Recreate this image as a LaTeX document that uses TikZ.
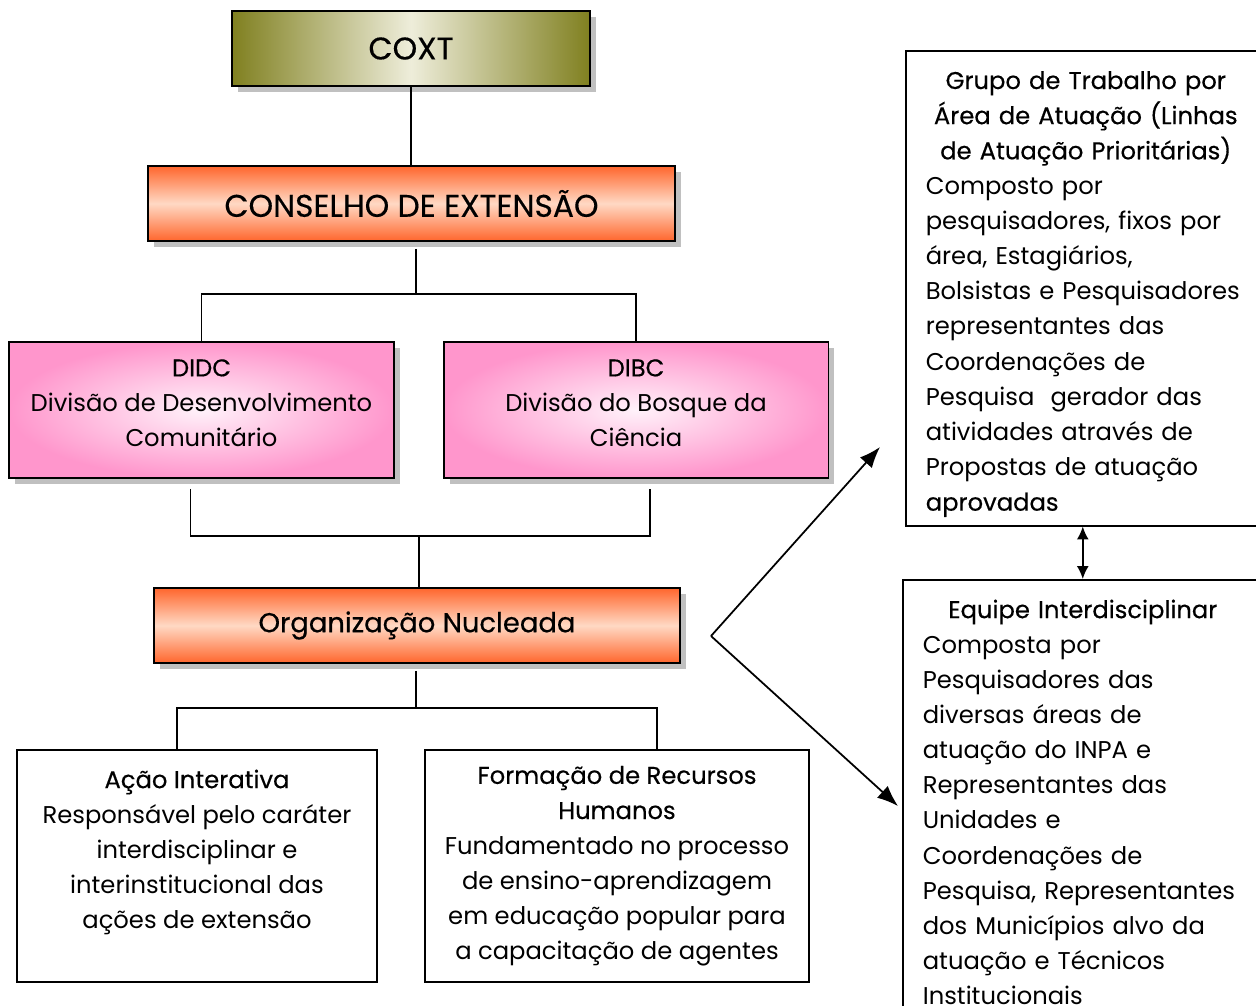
\documentclass[tikz,border=0pt]{standalone}
\usepackage{fontspec}
\setmainfont{Poppins}
\newfontfamily\headfont{Poppins}[FakeBold=0.4]
\usetikzlibrary{shadows,arrows.meta}
\definecolor{coxtdark}{RGB}{128,128,32}
\definecolor{coxtlight}{RGB}{238,237,218}
\definecolor{consorange}{RGB}{255,102,45}
\definecolor{conslight}{RGB}{255,217,196}
\definecolor{divpink}{RGB}{255,150,204}
\definecolor{divlight}{RGB}{255,242,250}
\definecolor{shadowgray}{RGB}{192,192,192}
\newcommand{\bodysize}{\fontsize{13.8pt}{20pt}\selectfont}
\newcommand{\bigsize}{\fontsize{17.8pt}{20pt}\selectfont}
\newcommand{\orgunit}[4]{%
 \node[#1] ({#2}) at ({#3}) {#4};%
}
\newcommand{\headline}[1]{\makebox[\hsize][c]{\headfont #1}}
\tikzset{
  unitbox/.style={draw, line width=1.1pt, inner sep=0pt, align=center,
    drop shadow={shadow xshift=.12cm, shadow yshift=-.12cm, fill=shadowgray, opacity=1}},
  olivebox/.style={unitbox, minimum width=7.16cm, minimum height=1.5cm,
    left color=coxtdark, right color=coxtdark, middle color=coxtlight,
    font=\headfont\bigsize},
  orangebox/.style={unitbox, minimum height=1.5cm,
    top color=consorange, bottom color=consorange, middle color=conslight,
    font=\headfont\bigsize},
  pinkbox/.style={unitbox, minimum width=7.7cm, minimum height=2.72cm,
    inner color=divlight, outer color=divpink},
  plainbox/.style={draw, line width=.9pt, inner sep=0pt, align=center,
    minimum height=4.64cm},
  sidebox/.style={draw, line width=.9pt, anchor=north west, align=left,
    text width=6.4cm, inner xsep=.4cm, inner ysep=0pt, minimum height=9.5cm},
  link/.style={line width=1.1pt},
  arr/.style={line width=1pt, -{Latex[length=.42cm,width=.32cm]}},
  dblarr/.style={line width=1pt, {Latex[length=.26cm,width=.24cm]}-{Latex[length=.26cm,width=.24cm]}}
}
\begin{document}
\begin{tikzpicture}[x=0.02cm,y=-0.02cm,every node/.style={font=\bodysize}]
  \useasboundingbox (0,0) rectangle (1256,1005);
  \clip (0,0) rectangle (1256,1005);
  \orgunit{olivebox}{coxt}{411,48.5}{COXT}
  \orgunit{orangebox,minimum width=10.54cm}{cons}{411.5,203.5}{CONSELHO DE EXTENSÃO}
  \orgunit{pinkbox}{didc}{201.5,410}{{\headfont DIDC}\\Divisão de Desenvolvimento\\Comunitário\\[-.42cm]}
  \orgunit{pinkbox}{dibc}{636,410}{{\headfont DIBC}\\Divisão do Bosque da\\Ciência\\[-.42cm]}
  \orgunit{orangebox,minimum width=10.52cm,font=\headfont\fontsize{15.6pt}{20pt}\selectfont}{org}{417,625.5}{Organização Nucleada}
  \orgunit{plainbox,minimum width=7.2cm}{acao}{197,866}{{\headfont Ação Interativa}\\Responsável pelo caráter\\interdisciplinar e\\interinstitucional das\\ações de extensão\\[-.24cm]\strut}
  \orgunit{plainbox,minimum width=7.68cm}{form}{617,866}{{\headfont Formação de Recursos}\\{\headfont Humanos}\\Fundamentado no processo\\de ensino-aprendizagem\\em educação popular para\\a capacitação de agentes}
  \orgunit{sidebox}{grupo}{905,50}{\headline{\rule{0pt}{.59cm}Grupo de Trabalho por}\\\headline{Área de Atuação (Linhas}\\\headline{de Atuação Prioritárias)}\\Composto por\\pesquisadores, fixos por\\área, Estagiários,\\Bolsistas e Pesquisadores\\representantes das\\Coordenações de\\Pesquisa\ \ gerador das\\atividades através de\\Propostas de atuação\\{\headfont aprovadas}}
  \orgunit{sidebox,minimum height=8.9cm}{equipe}{902,579}{\headline{Equipe Interdisciplinar}\\Composta por\\Pesquisadores das\\diversas áreas de\\atuação do INPA e\\Representantes das\\Unidades e\\Coordenações de\\Pesquisa, Representantes\\dos Municípios alvo da\\atuação e Técnicos\\Institucionais}
  % tree
  \coordinate (split1) at (416,294);
  \coordinate (split2) at (419,536);
  \coordinate (split3) at (416,708);
  \draw[link] (coxt.south) -- (coxt.south |- cons.north);
  \draw[link] ([yshift=-.14cm]cons.south -| split1) -- (split1);
  \draw[link] (didc.north) |- (split1) -| (dibc.north);
  \draw[link] ([xshift=-.22cm,yshift=-.2cm]didc.south) |- (split2) -| ([xshift=.28cm,yshift=-.2cm]dibc.south);
  \draw[link] (split2) -- (org.north -| split2);
  \draw[link] ([yshift=-.14cm]org.south -| split3) -- (split3);
  \draw[link] ([xshift=-.4cm]acao.north) |- (split3) -| ([xshift=.8cm]form.north);
  % side arrows
  \coordinate (fork) at (711,636);
  \coordinate (tipG) at (880,447);
  \coordinate (tipE) at (898,806);
  \draw[arr] (fork) -- (tipG);
  \draw[arr] (fork) -- (tipE);
  \draw[dblarr] (equipe.north |- grupo.south) -- (equipe.north);
\end{tikzpicture}
\end{document}
